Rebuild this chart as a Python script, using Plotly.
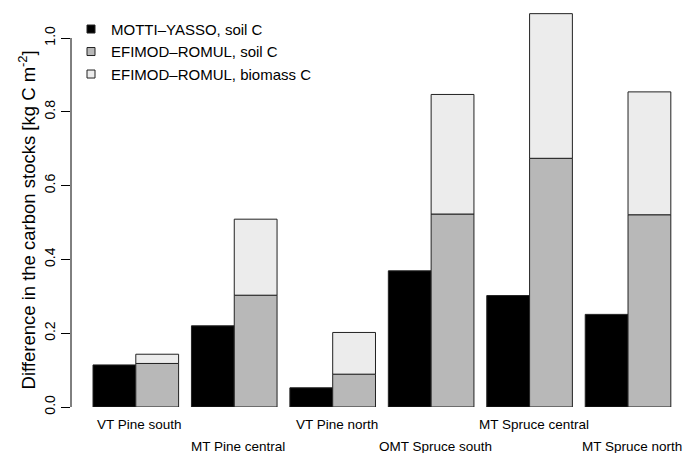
import plotly.graph_objects as go

sites = ["VT Pine south", "MT Pine central", "VT Pine north",
         "OMT Spruce south", "MT Spruce central", "MT Spruce north"]
motti_soil = [0.114, 0.220, 0.052, 0.369, 0.302, 0.251]
efimod_soil = [0.118, 0.303, 0.089, 0.523, 0.674, 0.521]
efimod_biomass = [0.025, 0.206, 0.113, 0.324, 0.392, 0.333]
y_ticks = [0.0, 0.2, 0.4, 0.6, 0.8, 1.0]
y_tick_labels = ["0.0", "0.2", "0.4", "0.6", "0.8", "1.0"]
series_names = ["MOTTI\u2013YASSO, soil C", "EFIMOD\u2013ROMUL, soil C", "EFIMOD\u2013ROMUL, biomass C"]
series_colors = ["#000000", "#b8b8b8", "#ececec"]

GROUP_STEP = 2.3
group_left = [i * GROUP_STEP for i in range(len(sites))]
x_black = [g + 0.5 for g in group_left]
x_grey = [g + 1.5 for g in group_left]
x_label = [g + 1.0 for g in group_left]

FONT = "Liberation Sans, Arial, Helvetica, sans-serif"
edge = dict(color="#222222", width=1)

fig = go.Figure()
fig.add_trace(go.Bar(x=x_black, y=motti_soil, width=1.0, marker=dict(color=series_colors[0], line=edge),
                     showlegend=False, name=series_names[0]))
fig.add_trace(go.Bar(x=x_grey, y=efimod_soil, width=1.0, marker=dict(color=series_colors[1], line=edge),
                     showlegend=False, name=series_names[1]))
fig.add_trace(go.Bar(x=x_grey, y=efimod_biomass, base=efimod_soil, width=1.0,
                     marker=dict(color=series_colors[2], line=edge),
                     showlegend=False, name=series_names[2]))

# legend entries (square keys)
for name, col in zip(series_names, series_colors):
    fig.add_trace(go.Scatter(x=[None], y=[None], mode="markers", name=name,
                             marker=dict(symbol="square", size=8, color=col,
                                         line=dict(color="#222222", width=1))))

# alternate-row site labels
for i, (xl, s) in enumerate(zip(x_label, sites)):
    fig.add_annotation(x=xl, y=0, xref="x", yref="paper", text=s, showarrow=False,
                       xanchor="center", yanchor="middle", yshift=-17 if i % 2 == 0 else -39,
                       xshift=4,
                       font=dict(family=FONT, size=13.5, color="black"))

# y axis title
fig.add_annotation(x=-0.0695, y=0.4723, xref="paper", yref="paper",
                   text="Difference in the carbon stocks [kg C m<sup>-2</sup>]",
                   textangle=-90, showarrow=False, xanchor="center", yanchor="middle",
                   font=dict(family=FONT, size=18.5, color="black"))

# R-style axis line spanning only the tick range
fig.add_shape(type="line", xref="paper", yref="y", x0=0, x1=0, y0=y_ticks[0], y1=y_ticks[-1],
              line=dict(color="black", width=1))

fig.update_layout(
    width=700, height=453,
    margin=dict(l=71, r=10, t=10, b=46),
    paper_bgcolor="white", plot_bgcolor="white",
    barmode="overlay",
    font=dict(family=FONT, color="black"),
    showlegend=True,
    legend=dict(x=0.0, y=0.993, xanchor="left", yanchor="top", bgcolor="rgba(0,0,0,0)",
                font=dict(family=FONT, size=15, color="black"), itemwidth=30,
                tracegroupgap=0),
    xaxis=dict(range=[-0.514, 13.948], showgrid=False, zeroline=False, showline=False,
               showticklabels=False, ticks=""),
    yaxis=dict(range=[0, 1.0759], showgrid=False, zeroline=False, showline=False,
               tickvals=y_ticks, ticktext=y_tick_labels, ticks="outside", ticklen=9,
               tickcolor="black", tickwidth=1, tickangle=-90, ticklabelstandoff=0,
               tickfont=dict(family=FONT, size=14, color="black")),
)

fig.write_html("out.html", config={"displayModeBar": False},
               post_script="document.body.style.margin='0';document.body.style.overflow='hidden';")
